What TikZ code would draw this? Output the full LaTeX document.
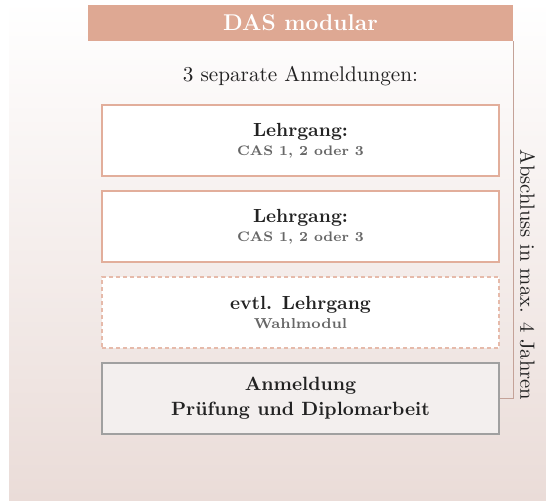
\documentclass[tikz,border=0pt]{standalone}
\usepackage{tikz}

\definecolor{salmon}{RGB}{222,168,147}
\definecolor{salmonline}{RGB}{226,174,155}
\definecolor{bgpink}{RGB}{234,220,216}
\definecolor{boxgray}{RGB}{160,160,160}
\definecolor{boxfill}{RGB}{243,239,238}
\definecolor{subgray}{RGB}{102,102,102}
\definecolor{textdark}{RGB}{34,34,34}

\begin{document}
\begin{tikzpicture}[x=0.5pt,y=-0.5pt,
        header/.style={fill=salmon,text=white,minimum width=212.5pt,minimum height=18pt,inner sep=0pt,
            font=\fontsize{11.4}{13}\selectfont\bfseries},
        course/.style={draw=salmonline,line width=1pt,fill=white,minimum width=198.5pt,minimum height=35.5pt,
            inner sep=0pt,align=center,text=textdark,font=\fontsize{9.5}{9.5}\selectfont\bfseries},
        optcourse/.style={course,draw=salmonline!85,line width=0.7pt,dash pattern=on 2pt off 1.5pt},
        exam/.style={course,draw=boxgray,line width=0.7pt,fill=boxfill,font=\fontsize{9.6}{12.5}\selectfont\bfseries},
        bracket/.style={draw={rgb,255:red,196;green,162;blue,152},line width=0.75pt},
        sub/.style={font=\fontsize{6.9}{8}\selectfont\bfseries,text=subgray}]

    % Background
    \useasboundingbox (0,0) rectangle (546,500);
    \shade[top color=white,bottom color=bgpink] (9,0) rectangle (546,500);

    % Header and intro
    \node[header] (head) at (300.5,23) {DAS modular};
    \node[text=textdark,font=\fontsize{10.6}{12}\selectfont] (intro) at (300.5,76) {3 separate Anmeldungen:};

    % Courses
    \node[course] (cas1) at (300.5,140.5) {Lehrgang:\\{\fontsize{6.9}{8}\selectfont\color{subgray}CAS 1, 2 oder 3}};
    \node[course] (cas2) at (300.5,226.5) {Lehrgang:\\{\fontsize{6.9}{8}\selectfont\color{subgray}CAS 1, 2 oder 3}};
    \node[optcourse] (wahl) at (300.5,312.5) {evtl. Lehrgang\\{\fontsize{7.2}{8}\selectfont\color{subgray}Wahlmodul}};

    % Exam
    \node[exam] (anm) at (300.5,398.5) {Anmeldung\\Pr\"ufung und Diplomarbeit};

    % Bracket from header to exam
    \draw[bracket] (head.south east) -- (head.south east |- anm.east) -- (anm.east);
    \node[rotate=-90,text=textdark,font=\fontsize{10.3}{12}\selectfont] (time) at (527.5,275) {Abschluss in max. 4 Jahren};
\end{tikzpicture}
\end{document}
